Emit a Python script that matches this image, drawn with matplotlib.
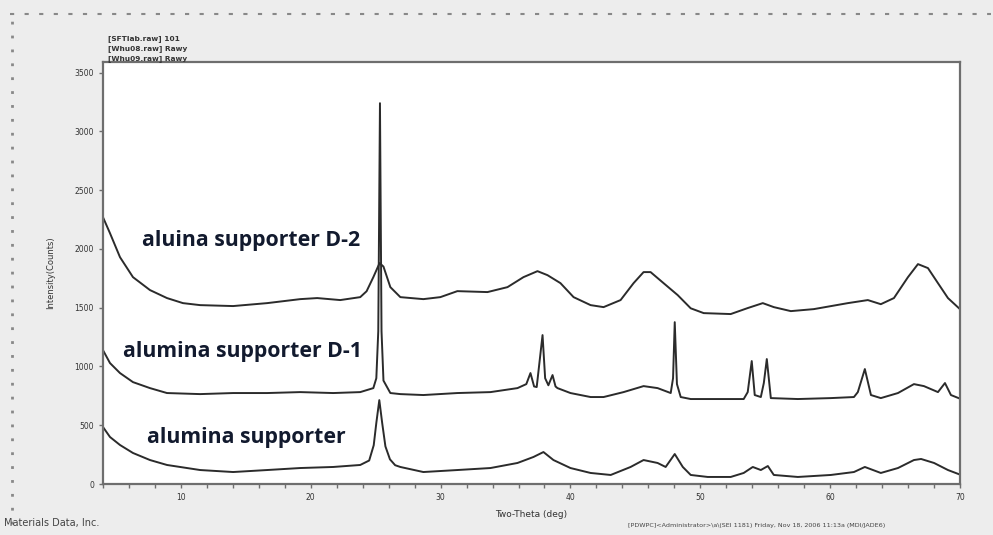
import matplotlib
matplotlib.use("Agg")
import matplotlib.pyplot as plt
from matplotlib.lines import Line2D
from matplotlib.ticker import MultipleLocator

# two-theta / counts
d2_x = [4.0, 4.54, 5.31, 6.31, 7.62, 8.93, 10.16, 11.48, 14.02, 16.64, 19.19, 20.5,
        22.27, 23.81, 24.3, 24.82, 25.3, 25.6, 26.13, 26.9, 28.67, 29.98, 31.29,
        33.61, 35.15, 36.38, 37.46, 38.23, 39.23, 40.24, 41.55, 42.55, 43.86, 44.86,
        45.63, 46.17, 47.17, 48.26, 49.26, 50.26, 52.34, 53.65, 54.81, 55.66, 56.97,
        58.74, 61.36, 62.9, 63.9, 64.91, 65.99, 66.76, 67.53, 68.3, 69.07, 70.07]
d2_y = [2270, 2134, 1930, 1760, 1650, 1582, 1539, 1522, 1514, 1539, 1573, 1582,
        1565, 1590, 1640, 1760, 1880, 1850, 1675, 1590, 1573, 1590, 1641,
        1633, 1675, 1760, 1811, 1777, 1709, 1590, 1522, 1505, 1565, 1709,
        1803, 1803, 1709, 1607, 1495, 1454, 1446, 1497, 1539, 1505, 1471,
        1488, 1539, 1565, 1530, 1582, 1760, 1871, 1837, 1709, 1582, 1480]

d1_x = [4.0, 4.54, 5.31, 6.31, 7.62, 8.93, 11.48, 14.02, 16.64, 19.19, 21.73, 23.81,
        24.82, 25.05, 25.2, 25.33, 25.45, 25.6, 26.13, 26.9, 28.67, 31.29, 33.84,
        35.92, 36.6, 36.92, 37.2, 37.4, 37.85, 38.05, 38.3, 38.62, 38.85, 39.0, 40.0,
        41.55, 42.55, 44.09, 45.63, 46.71, 47.72, 47.9, 48.03, 48.2, 48.49, 49.26,
        51.03, 53.34, 53.65, 53.96, 54.19, 54.66, 54.89, 55.12, 55.43, 57.51, 60.05,
        61.83, 62.13, 62.67, 63.14, 63.9, 65.22, 66.45, 67.22, 68.3, 68.84, 69.3, 70.07]
d1_y = [1139, 1029, 944, 867, 816, 774, 765, 774, 774, 782, 774, 782,
        816, 900, 1300, 3240, 1300, 880, 774, 765, 757, 774, 782,
        816, 850, 944, 830, 825, 1267, 900, 840, 927, 830, 816, 774,
        740, 740, 782, 833, 816, 774, 900, 1377, 850, 740, 723,
        723, 723, 782, 1046, 757, 740, 859, 1063, 731, 723, 731,
        740, 782, 978, 757, 731, 774, 850, 833, 782, 859, 757, 723]

base_x = [4.0, 4.54, 5.31, 6.31, 7.62, 8.93, 11.48, 14.02, 16.64, 19.19, 21.73, 23.81,
          24.5, 24.85, 25.05, 25.28, 25.5, 25.75, 26.1, 26.5, 26.9, 28.67, 31.29,
          33.84, 35.92, 37.15, 37.92, 38.69, 40.0, 41.55, 43.1, 44.63, 45.63, 46.71,
          47.33, 48.03, 48.65, 49.26, 50.57, 52.34, 53.34, 54.04, 54.66, 55.2, 55.66,
          57.51, 60.05, 61.83, 62.67, 63.9, 65.22, 66.45, 67.0, 68.0, 69.07, 70.07]
base_y = [485, 400, 332, 264, 204, 162, 119, 102, 119, 136, 145, 162,
          200, 330, 520, 714, 520, 320, 210, 160, 145, 102, 119,
          136, 179, 230, 272, 204, 136, 94, 77, 145, 204, 179,
          145, 255, 145, 77, 60, 60, 94, 145, 119, 153, 77,
          60, 77, 102, 145, 94, 136, 204, 213, 179, 119, 77]

series_names = ["aluina supporter D-2", "alumina supporter D-1", "alumina supporter"]
scan_names = ["[SFTlab.raw] 101", "[Whu08.raw] Rawy", "[Whu09.raw] Rawy"]
y_ticks = [0, 500, 1000, 1500, 2000, 2500, 3000, 3500]
x_ticks = [10, 20, 30, 40, 50, 60, 70]

line_col = "#2b2b2b"
grey = "#6e6e6e"

fig = plt.figure(figsize=(9.93, 5.35), dpi=100, facecolor="#ededed")
ax = fig.add_axes([0.1037, 0.0953, 0.8631, 0.7887])
ax.set_facecolor("white")

for xs, ys in [(base_x, base_y), (d1_x, d1_y), (d2_x, d2_y)]:
    ax.plot(xs, ys, color=line_col, lw=1.4, solid_joinstyle="round")

ax.set_xlim(4, 70)
ax.set_ylim(0, 3590)
ax.set_xticks(x_ticks)
ax.xaxis.set_minor_locator(MultipleLocator(2))
ax.set_yticks(y_ticks)
ax.tick_params(which="both", direction="out", colors=grey, labelcolor="#333333",
               labelsize=5.5, width=1, length=3)
for s in ax.spines.values():
    s.set_color(grey)
    s.set_linewidth(1.6)

ax.set_xlabel("Two-Theta (deg)", fontsize=6.5, color="#333333", labelpad=6)
ax.set_ylabel("Intensity(Counts)", fontsize=6, color="#333333", labelpad=14)

label_pos = [(0.0455, 0.578), (0.0233, 0.313), (0.0513, 0.111)]
for name, (tx, ty) in zip(series_names, label_pos):
    ax.text(tx, ty, name, transform=ax.transAxes, fontsize=15.3, fontweight="bold",
            family="Open Sans", color="#121a2e", va="center", ha="left")

for i, nm in enumerate(scan_names):
    fig.text(0.109, 0.928 - i * 0.019, nm, fontsize=5.3, fontweight="bold",
             color="#333333", va="center")

# ruler marks along the top and left edge
fig.add_artist(Line2D([0.01, 0.998], [0.974, 0.974], transform=fig.transFigure,
                      color="#888888", lw=1.5, linestyle=(0, (2, 5))))
fig.add_artist(Line2D([0.012, 0.012], [0.02, 0.96], transform=fig.transFigure,
                      color="#888888", lw=2, linestyle=(0, (1, 4))))

fig.text(0.004, 0.013, "Materials Data, Inc.", fontsize=7, color="#444444", va="bottom")
fig.text(0.632, 0.013, "[PDWPC]<Administrator>\\a\\(SEI 1181) Friday, Nov 18, 2006 11:13a (MDI/JADE6)",
         fontsize=4.6, color="#444444", va="bottom")

fig.savefig("out.png", dpi=100, facecolor=fig.get_facecolor())
